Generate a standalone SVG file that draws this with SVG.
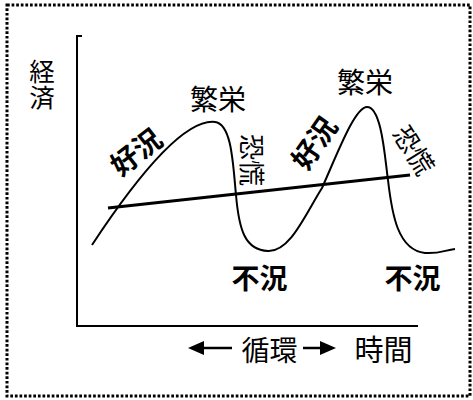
<svg xmlns="http://www.w3.org/2000/svg" width="473" height="400" viewBox="0 0 473 400">
<style>
text{font-family:"Noto Sans CJK JP","Noto Sans CJK SC",sans-serif;fill:#000;text-anchor:middle}
.b{font-weight:bold}
.ln{fill:none;stroke:#000;stroke-width:2}
</style>
<rect width="473" height="400" fill="#fff"/>
<rect x="7" y="5" width="463" height="391" fill="none" stroke="#000" stroke-width="3" stroke-dasharray="2.7 1.9"/>
<g id="connectors">
<path class="ln" d="M82,36 H77 V326 H418"/>
<path fill="none" stroke="#000" stroke-width="3.2" d="M108,208 L410,175"/>
<path class="ln" d="M92,245 C125,195 180,118 215,122 C232,124 233,165 236,195 C239,230 245,250 268,251 C290,252 305,215 322,188 C338,152 355,107 367,107 C382,107 385,160 388,180 C392,215 398,250 425,253 C440,254 445,250 455,249"/>
<path d="M203,348 H232" stroke="#000" stroke-width="2.5"/>
<path d="M188,348 L204,341 L204,355 Z"/>
<path d="M303,348 H322" stroke="#000" stroke-width="2.5"/>
<path d="M336,348 L320,341 L320,355 Z"/>
</g>
<g id="keizai"><text x="42" y="59" font-size="25.5" writing-mode="vertical-rl" style="text-anchor:start">経済</text></g>
<g id="hanei1"><text x="218" y="110" font-size="28">繁栄</text></g>
<g id="hanei2"><text x="365" y="92.5" font-size="28">繁栄</text></g>
<g id="kokyo1"><text class="b" font-size="28" transform="translate(136,152) rotate(-38)" y="10.6">好況</text></g>
<g id="kokyo2"><text class="b" font-size="28" transform="translate(314,143) rotate(-55)" y="10.6">好況</text></g>
<g id="kyoko1"><text font-size="26" transform="translate(252,160) rotate(90)" y="9.9">恐慌</text></g>
<g id="kyoko2"><text font-size="26" transform="translate(414,150) rotate(58)" y="9.9">恐慌</text></g>
<g id="fukyo1"><text class="b" x="259.5" y="288.5" font-size="28">不況</text></g>
<g id="fukyo2"><text class="b" x="412.5" y="288.5" font-size="28">不況</text></g>
<g id="junkan"><text x="269.5" y="361" font-size="28">循環</text></g>
<g id="jikan"><text x="383.5" y="361" font-size="29">時間</text></g>
</svg>
